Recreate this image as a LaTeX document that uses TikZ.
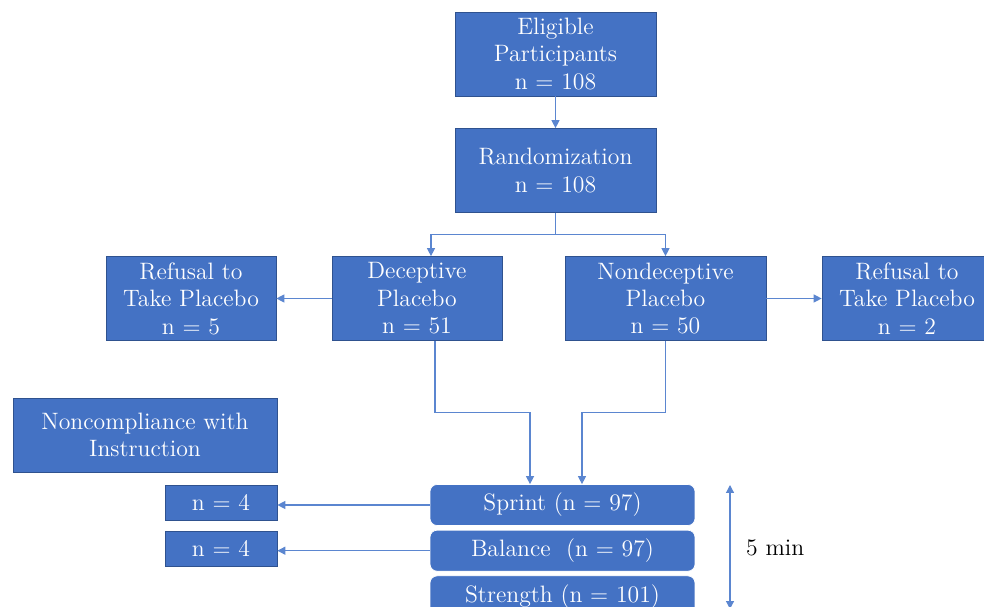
\documentclass[tikz,border=0pt]{standalone}
\usepackage{tikz}
\usepackage{xcolor}
\usetikzlibrary{arrows.meta,positioning,calc}
\definecolor{flowBlue}{HTML}{4472C4}
\definecolor{flowEdge}{HTML}{2F528F}
\definecolor{flowLine}{HTML}{5B86D0}

\begin{document}
\begin{tikzpicture}[
    x=0.02cm, y=-0.02cm,
    box/.style={draw=flowEdge, fill=flowBlue, text=white, minimum width=#1, minimum height=1.68cm, align=center, font=\fontsize{13.5}{15.6}\selectfont, inner sep=2pt},
    test/.style={draw=white, fill=flowBlue, text=white, rounded corners=4pt, minimum width=5.3cm, minimum height=0.82cm, align=center, font=\fontsize{13.5}{15.6}\selectfont},
    arr/.style={-{Triangle[length=1.6mm,width=1.6mm]}, draw=flowLine, line width=0.7pt}
]
\useasboundingbox (0,0) rectangle (984,607);

\node[box=4.02cm] (elig) at (555.5,54) {Eligible\\Participants\\n = 108};
\node[box=4.02cm] (rand) at (555.5,170.5) {Randomization\\n = 108};
\node[box=3.4cm] (dec) at (417,298.5) {Deceptive\\Placebo\\n = 51};
\node[box=4.02cm] (nondec) at (665.5,298.5) {Nondeceptive\\Placebo\\n = 50};
\node[box=3.4cm] (refL) at (191,298.5) {Refusal to\\Take Placebo\\n = 5};
\node[box=3.4cm] (refR) at (907,298.5) {Refusal to\\Take Placebo\\n = 2};
\node[box=5.28cm, minimum height=1.48cm] (noncomp) at (145,435) {Noncompliance with\\Instruction};

\node[test] (sprint) at (562.5,505) {Sprint (n = 97)};
\node[test, below=0.08cm of sprint] (balance) {Balance\ \ (n = 97)};
\node[test, below=0.08cm of balance] (strength) {Strength (n = 101)};
\node[box=2.24cm, minimum height=0.7cm] (outS) at (221,502.5) {n = 4};
\node[box=2.24cm, minimum height=0.7cm] (outB) at (221,548.5) {n = 4};

\draw[arr] (elig) -- (rand);
\draw[arr] (rand.south) -- ++(0,-0.44cm) -| ([xshift=0.28cm]dec.north);
\draw[arr] (rand.south) -- ++(0,-0.44cm) -| (nondec.north);
\draw[arr] (dec) -- (refL);
\draw[arr] (nondec) -- (refR);
\draw[arr] ([xshift=0.36cm]dec.south) -- ++(0,-1.44cm) -| ([xshift=-0.65cm]sprint.north);
\draw[arr] (nondec.south) -- ++(0,-1.44cm) -| ([xshift=0.39cm]sprint.north);
\draw[arr] (sprint.west) -- (outS.east |- sprint.west);
\draw[arr] (balance.west) -- (outB.east |- balance.west);

\coordinate (tTop) at (730,485);
\coordinate (tBot) at (730,609);
\draw[arr, {Triangle[length=1.6mm,width=1.6mm]}-{Triangle[length=1.6mm,width=1.6mm]}] (tTop) -- (tBot);
\node[font=\fontsize{13.5}{15.6}\selectfont, anchor=west] (dur) at (740,548) {5 min};
\end{tikzpicture}
\end{document}
